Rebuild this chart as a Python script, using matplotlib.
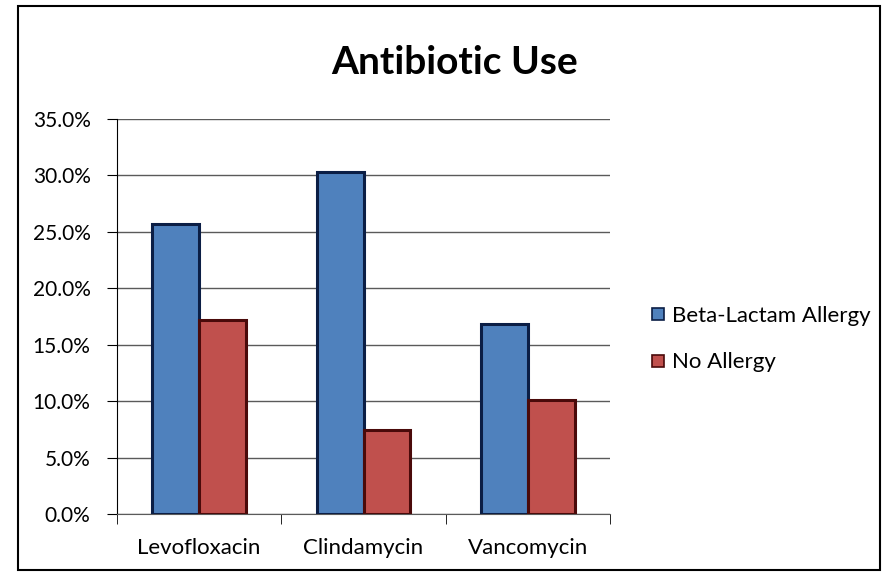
import matplotlib
matplotlib.use("Agg")
import matplotlib.pyplot as plt
from matplotlib.patches import Rectangle
from matplotlib.lines import Line2D
import numpy as np

categories = ["Levofloxacin", "Clindamycin", "Vancomycin"]
beta_lactam = [0.257, 0.303, 0.168]
no_allergy = [0.172, 0.074, 0.101]
series_names = ["Beta-Lactam Allergy", "No Allergy"]
yticks = [0.0, 0.05, 0.10, 0.15, 0.20, 0.25, 0.30, 0.35]

plt.rcParams['font.family'] = ['Lato', 'DejaVu Sans']

fig = plt.figure(figsize=(8.83, 5.76), dpi=100)
fig.patches.append(Rectangle((18/883, 6/576), (880-18)/883, (570-6)/576,
                             transform=fig.transFigure, fill=False,
                             edgecolor='black', linewidth=1.5))

ax = fig.add_axes([117/883, 1-514/576, (610-117)/883, (514-119)/576])
x = np.arange(len(categories))
w = 0.285
blue, blue_edge = '#4F81BD', '#0B1E45'
red, red_edge = '#C0504D', '#4A0A0A'
ax.bar(x - w/2, beta_lactam, width=w, color=blue, edgecolor=blue_edge, linewidth=2.2, zorder=3)
ax.bar(x + w/2, no_allergy, width=w, color=red, edgecolor=red_edge, linewidth=2.2, zorder=3)

ax.set_xlim(-0.5, 2.5)
ax.set_ylim(0, 0.35)
ax.set_yticks(yticks)
ax.set_yticklabels([f"{v*100:.1f}%" for v in yticks], fontsize=15)
ax.yaxis.grid(True, color='#5a5a5a', linewidth=1, zorder=0)
ax.set_xticks(x)
ax.set_xticklabels(categories, fontsize=16)
ax.tick_params(axis='x', length=0, pad=17)
ax.set_xticks([-0.5, 0.5, 1.5, 2.5], minor=True)
ax.tick_params(axis='x', which='minor', length=7, color='black', direction='out')
ax.tick_params(axis='y', length=7, color='black', direction='out', pad=12)
for s in ['top', 'right']:
    ax.spines[s].set_visible(False)
ax.spines['left'].set_color('black')
ax.spines['bottom'].set_color('#5a5a5a')

fig.text(455/883, 1-62/576, "Antibiotic Use", ha='center', va='center',
         fontsize=28, fontweight='bold')

handles = [Line2D([], [], marker='s', linestyle='none', markersize=8,
                  markerfacecolor=blue, markeredgecolor=blue_edge, markeredgewidth=1.2),
           Line2D([], [], marker='s', linestyle='none', markersize=8,
                  markerfacecolor=red, markeredgecolor=red_edge, markeredgewidth=1.2)]
fig.legend(handles, series_names, loc='center left', bbox_to_anchor=(650/883, 1-339/576),
           frameon=False, fontsize=16, handletextpad=0.25, labelspacing=1.2,
           handlelength=0.75, borderpad=0, borderaxespad=0)

fig.savefig("out.png", dpi=100)
